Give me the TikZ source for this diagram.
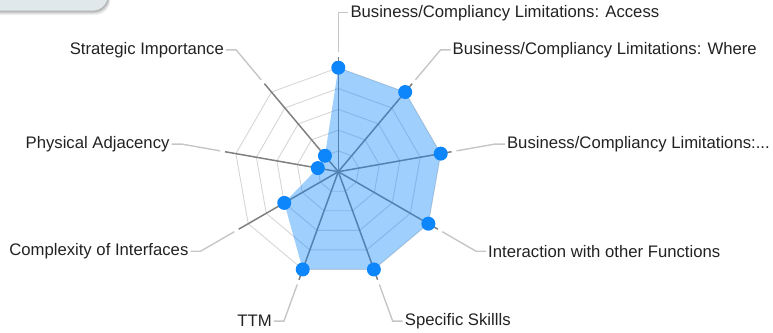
\documentclass[tikz,border=0pt]{standalone}
\usepackage{fontspec}
\setmainfont{Liberation Sans}
\usetikzlibrary{calc}
\definecolor{dotblue}{RGB}{12,134,250}
\definecolor{gridgray}{RGB}{214,214,214}
\definecolor{axisgray}{RGB}{128,128,128}
\definecolor{leadgray}{RGB}{198,198,198}
\definecolor{boxfill}{RGB}{225,232,236}
\definecolor{labeltext}{RGB}{34,34,34}
\begin{document}
\begin{tikzpicture}[x=1pt,y=-1pt,
  gridline/.style={draw=gridgray, line width=0.9pt},
  axisline/.style={draw=axisgray, line width=1.5pt},
  leader/.style={draw=leadgray, line width=1.4pt, shorten >=2pt},
  datadot/.style={circle, fill=dotblue, inner sep=0pt, minimum size=14pt},
  lbl/.style={font=\fontsize{16.7}{20}\selectfont, text=labeltext, inner sep=0pt},
  area/.style={fill=dotblue, fill opacity=0.4}
]
\useasboundingbox (0,0) rectangle (773,332);
\begin{scope}
\clip (0,0) rectangle (773,332);
% partial panel at top-left
\foreach \o/\op in {4/0.05,3/0.07,2/0.09,1/0.11}
  \fill[black, opacity=\op, rounded corners=15pt] (-40,-40) rectangle (108+\o*0.6,11+\o);
\draw[draw=gray!60, fill=boxfill, line width=0.6pt, rounded corners=15pt] (-40,-40) rectangle (108,11);

\coordinate (C) at (338.3,171.7);
% grid rings
\foreach \k in {1,...,5}
  \draw[gridline] ($(C)+(-90:20.8*\k)$)
    \foreach \j in {1,...,8}{ -- ($(C)+(40*\j-90:20.8*\k)$) } -- cycle;
% axes, leader anchors
\foreach \i in {0,...,8}{
  \coordinate (a\i) at ($(C)+(40*\i-90:115)$);
  \coordinate (s\i) at ($(C)+(40*\i-90:120)$);
  \coordinate (e\i) at ($(C)+(40*\i-90:159)$);
  \draw[axisline] (C) -- (a\i);
}
% data points
\foreach \v [count=\i from 0] in {5,5,5,5,5,5,3,1,1}
  \coordinate (p\i) at ($(C)+(40*\i-90:20.8*\v)$);
\fill[area] (p0) -- (p1) -- (p2) -- (p3) -- (p4) -- (p5) -- (p6) -- (p7) -- (p8) -- cycle;
\foreach \i in {0,...,8}
  \node[datadot] (d\i) at (p\i) {};
\end{scope}

% labels
\node[lbl, anchor=west] (l0) at ($(e0)+(12,0)$) {Business/Compliancy Limitations: Access};
\node[lbl, anchor=west] (l1) at ($(e1)+(12,0)$) {Business/Compliancy Limitations: Where};
\node[lbl, anchor=west] (l2) at ($(e2)+(12,0)$) {Business/Compliancy Limitations:...};
\node[lbl, anchor=west] (l3) at ($(e3)+(12,0)$) {Interaction with other Functions};
\node[lbl, anchor=west] (l4) at ($(e4)+(12,0)$) {Specific Skillls};
\node[lbl, anchor=east] (l5) at ($(e5)+(-12,0)$) {TTM};
\node[lbl, anchor=east] (l6) at ($(e6)+(-12,0)$) {Complexity of Interfaces};
\node[lbl, anchor=east] (l7) at ($(e7)+(-12,0)$) {Physical Adjacency};
\node[lbl, anchor=east] (l8) at ($(e8)+(-12,0)$) {Strategic Importance};

\foreach \i in {0,...,4}
  \draw[leader] (s\i) -- (e\i) -- (l\i.west);
\foreach \i in {5,...,8}
  \draw[leader] (s\i) -- (e\i) -- (l\i.east);
\end{tikzpicture}
\end{document}
